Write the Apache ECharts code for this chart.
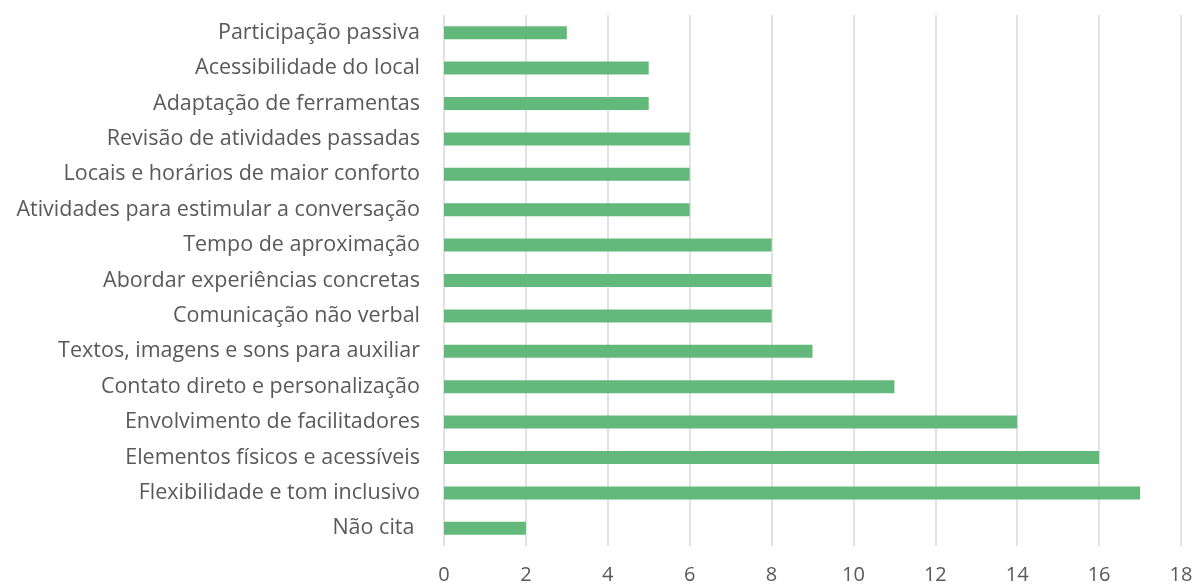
<!DOCTYPE html>
<html>
<head>
<meta charset="utf-8">
<script src="https://cdn.jsdelivr.net/npm/echarts@6/dist/echarts.min.js"></script>
<style>
  html, body { margin: 0; padding: 0; background: #fff; }
  #main { width: 1195px; height: 584px; }
</style>
</head>
<body>
<div id="main"></div>
<script>
// categorias de baixo para cima
var categorias = [
    'Não cita ',
    'Flexibilidade e tom inclusivo',
    'Elementos físicos e acessíveis',
    'Envolvimento de facilitadores',
    'Contato direto e personalização',
    'Textos, imagens e sons para auxiliar',
    'Comunicação não verbal',
    'Abordar experiências concretas',
    'Tempo de aproximação',
    'Atividades para estimular a conversação',
    'Locais e horários de maior conforto',
    'Revisão de atividades passadas',
    'Adaptação de ferramentas',
    'Acessibilidade do local',
    'Participação passiva'
];
var valores = [2, 17, 16, 14, 11, 9, 8, 8, 8, 6, 6, 6, 5, 5, 3];
var eixoX = { min: 0, max: 18, intervalo: 2 };

var myChart = echarts.init(document.getElementById('main'));
myChart.setOption({
    animation: false,
    textStyle: { fontFamily: 'Open Sans' },
    grid: { left: 444, right: 14, top: 15, bottom: 38, containLabel: false, outerBoundsMode: 'none' },
    xAxis: {
        type: 'value',
        min: eixoX.min,
        max: eixoX.max,
        interval: eixoX.intervalo,
        axisLine: { show: false },
        axisTick: { show: false },
        axisLabel: { color: '#595959', fontSize: 20, margin: 19 },
        splitLine: { show: true, lineStyle: { color: '#d9d9d9', width: 1.5 } }
    },
    yAxis: {
        type: 'category',
        data: categorias,
        axisLine: { show: false },
        axisTick: { show: false },
        axisLabel: { color: '#595959', fontSize: 21.5, margin: 24 }
    },
    series: [{
        type: 'bar',
        data: valores,
        barWidth: 13,
        itemStyle: { color: '#63b97b' }
    }]
});
</script>
</body>
</html>
